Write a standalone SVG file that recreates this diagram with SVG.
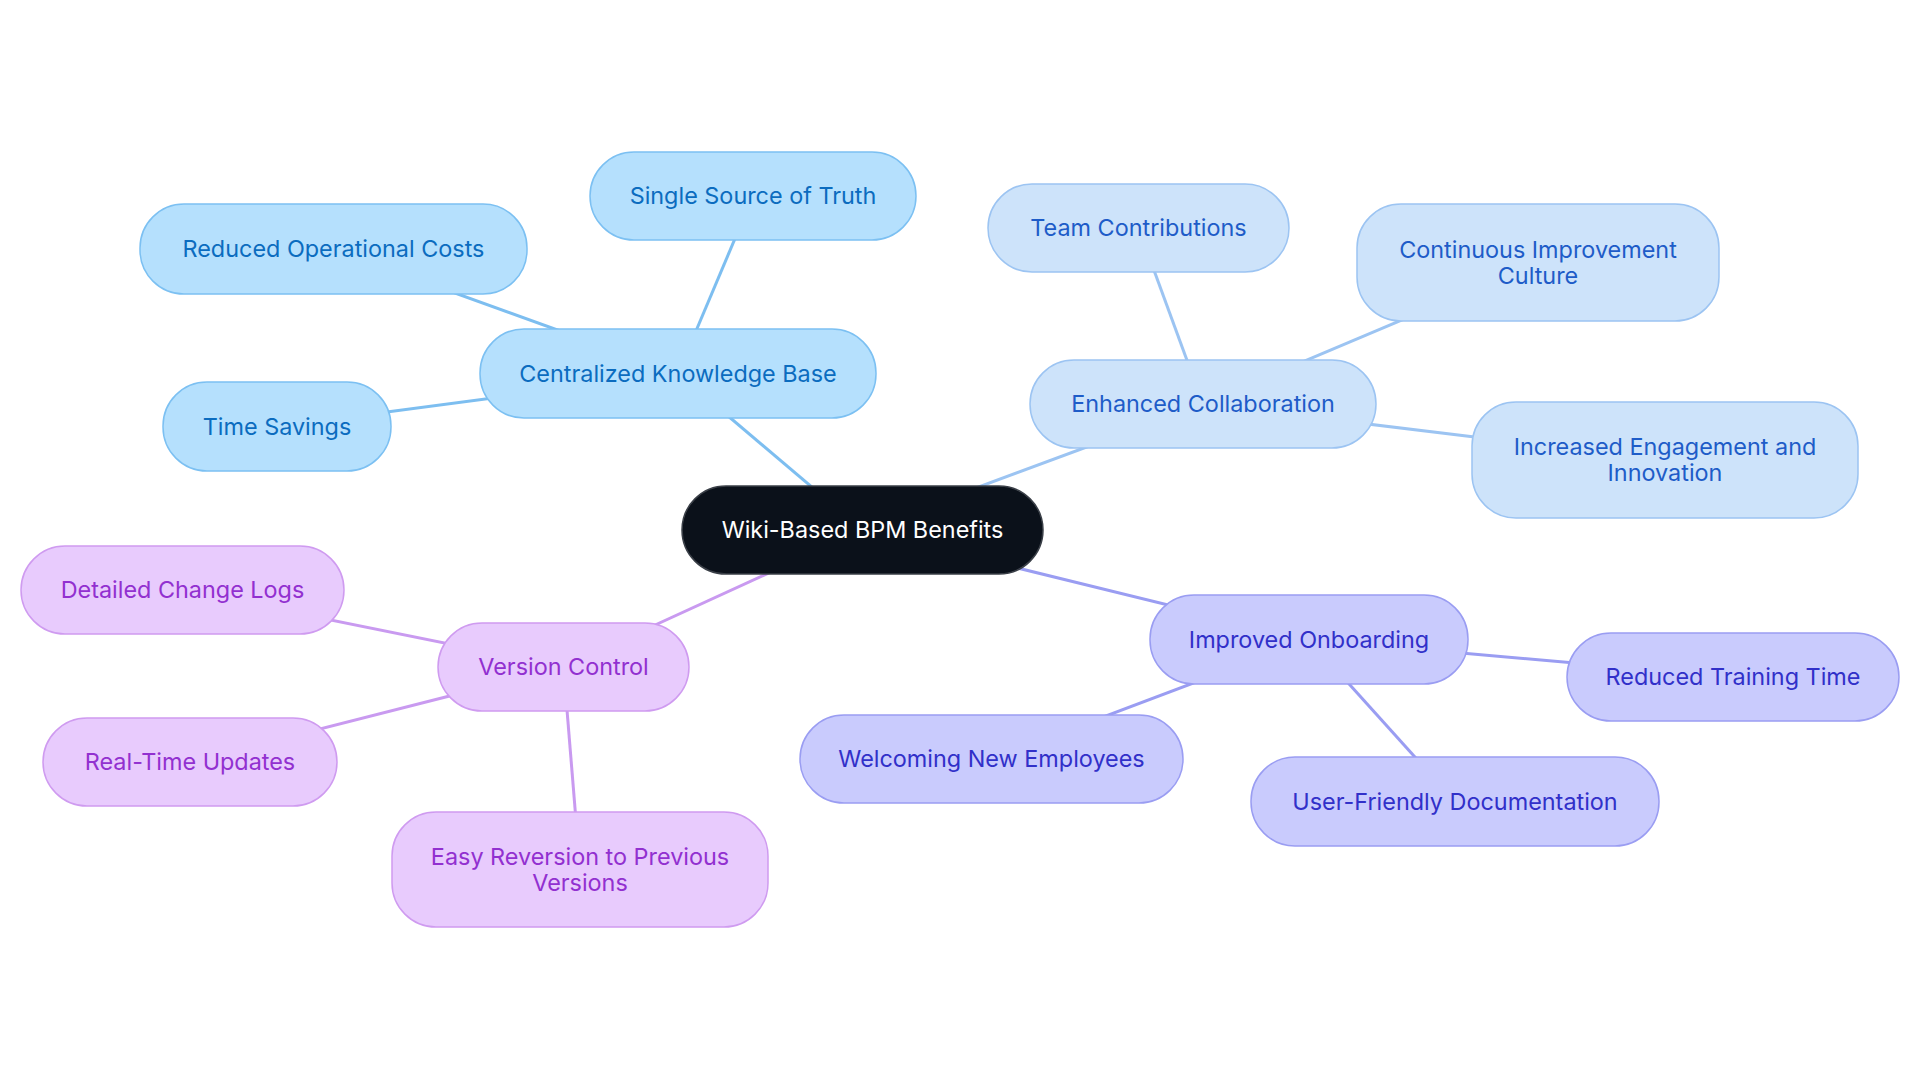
<svg xmlns="http://www.w3.org/2000/svg" width="1920" height="1083" viewBox="0 0 1920 1083">
<style>
text{font-family:Inter,"Noto Sans",sans-serif;font-size:23.4px;text-anchor:middle;dominant-baseline:central}
.c line{stroke-width:3;fill:none}
.lb{stroke:#7DBEF0}.lc{stroke:#9CC4F2}.li{stroke:#9A9DF2}.lp{stroke:#C99AF0}
.nb rect{fill:#B5E0FD;stroke:#7CC0F2;stroke-width:1.5}.nb text{fill:#0B6CBF}
.nc rect{fill:#CDE3FA;stroke:#9CC4F2;stroke-width:1.5}.nc text{fill:#1E5CC8}
.ni rect{fill:#C9CBFD;stroke:#9A9DF2;stroke-width:1.5}.ni text{fill:#3130C9}
.np rect{fill:#E8CBFD;stroke:#CF9BF0;stroke-width:1.5}.np text{fill:#9230D0}
.root rect{fill:#0B111A;stroke:#3a3f47;stroke-width:1.5}.root text{fill:#FFFFFF}
</style>
<rect width="1920" height="1083" fill="#FFFFFF"/>
<g id="connectors" class="c">
<line class="lb" x1="862.5" y1="530" x2="678" y2="373.5"/>
<line class="lb" x1="678" y1="373.5" x2="753" y2="196"/>
<line class="lb" x1="678" y1="373.5" x2="333" y2="249"/>
<line class="lb" x1="678" y1="373.5" x2="277" y2="426.5"/>
<line class="lc" x1="862.5" y1="530" x2="1203" y2="404"/>
<line class="lc" x1="1203" y1="404" x2="1138.5" y2="228"/>
<line class="lc" x1="1203" y1="404" x2="1538" y2="262.5"/>
<line class="lc" x1="1203" y1="404" x2="1665" y2="460"/>
<line class="li" x1="862.5" y1="530" x2="1309" y2="639.5"/>
<line class="li" x1="1309" y1="639.5" x2="1733" y2="677"/>
<line class="li" x1="1309" y1="639.5" x2="991.5" y2="759"/>
<line class="li" x1="1309" y1="639.5" x2="1455" y2="801.5"/>
<line class="lp" x1="862.5" y1="530" x2="563.5" y2="667"/>
<line class="lp" x1="563.5" y1="667" x2="182.5" y2="590"/>
<line class="lp" x1="563.5" y1="667" x2="190" y2="762"/>
<line class="lp" x1="563.5" y1="667" x2="580" y2="869.5"/>
</g>
<g id="root" class="root"><rect x="682" y="486" width="361" height="88" rx="44"/><text x="862.5" y="529.5">Wiki-Based BPM Benefits</text></g>
<g id="ckb" class="nb"><rect x="480" y="329" width="396" height="89" rx="44"/><text x="678" y="373">Centralized Knowledge Base</text></g>
<g id="ssot" class="nb"><rect x="590" y="152" width="326" height="88" rx="44"/><text x="753" y="195.5">Single Source of Truth</text></g>
<g id="roc" class="nb"><rect x="140" y="204" width="387" height="90" rx="44"/><text x="333.5" y="248.5">Reduced Operational Costs</text></g>
<g id="ts" class="nb"><rect x="163" y="382" width="228" height="89" rx="44"/><text x="277" y="426">Time Savings</text></g>
<g id="ec" class="nc"><rect x="1030" y="360" width="346" height="88" rx="44"/><text x="1203" y="403.5">Enhanced Collaboration</text></g>
<g id="tc" class="nc"><rect x="988" y="184" width="301" height="88" rx="44"/><text x="1138.5" y="227.5">Team Contributions</text></g>
<g id="cic" class="nc"><rect x="1357" y="204" width="362" height="117" rx="44"/><text x="1538" y="249">Continuous Improvement</text><text x="1538" y="275">Culture</text></g>
<g id="iei" class="nc"><rect x="1472" y="402" width="386" height="116" rx="44"/><text x="1665" y="446">Increased Engagement and</text><text x="1665" y="472">Innovation</text></g>
<g id="io" class="ni"><rect x="1150" y="595" width="318" height="89" rx="44"/><text x="1309" y="639">Improved Onboarding</text></g>
<g id="rtt" class="ni"><rect x="1567" y="633" width="332" height="88" rx="44"/><text x="1733" y="676.5">Reduced Training Time</text></g>
<g id="wne" class="ni"><rect x="800" y="715" width="383" height="88" rx="44"/><text x="991.5" y="758.5">Welcoming New Employees</text></g>
<g id="ufd" class="ni"><rect x="1251" y="757" width="408" height="89" rx="44"/><text x="1455" y="801">User-Friendly Documentation</text></g>
<g id="vc" class="np"><rect x="438" y="623" width="251" height="88" rx="44"/><text x="563.5" y="666.5">Version Control</text></g>
<g id="dcl" class="np"><rect x="21" y="546" width="323" height="88" rx="44"/><text x="182.5" y="589.5">Detailed Change Logs</text></g>
<g id="rtu" class="np"><rect x="43" y="718" width="294" height="88" rx="44"/><text x="190" y="761.5">Real-Time Updates</text></g>
<g id="erv" class="np"><rect x="392" y="812" width="376" height="115" rx="44"/><text x="580" y="856">Easy Reversion to Previous</text><text x="580" y="882">Versions</text></g>
</svg>
